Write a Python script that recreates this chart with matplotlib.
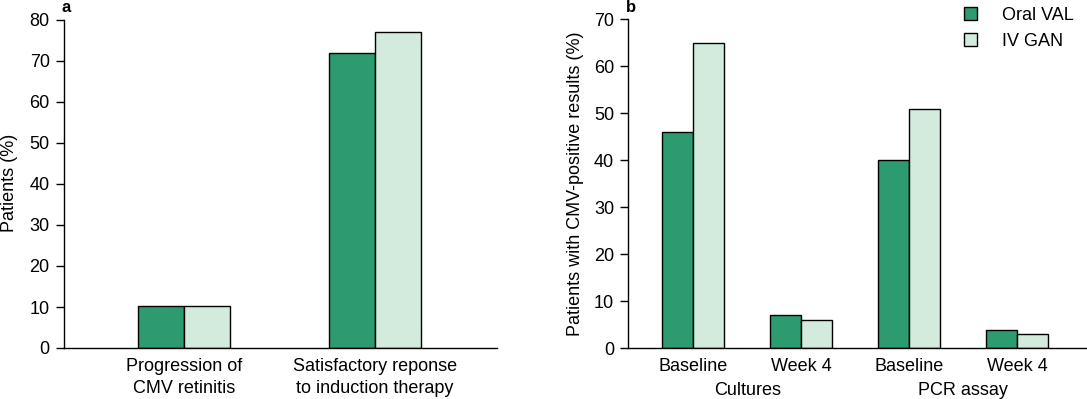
import matplotlib
matplotlib.use("Agg")
import matplotlib.pyplot as plt
import numpy as np
from matplotlib.patches import Patch
import matplotlib.transforms as mtransforms

plt.rcParams['font.family'] = ['Liberation Sans', 'DejaVu Sans']

# Panel a data
a_categories = ["Progression of\nCMV retinitis", "Satisfactory reponse\nto induction therapy"]
a_oral_val = [10.3, 72]
a_iv_gan = [10.3, 77]

# Panel b data
b_categories = ["Baseline", "Week 4", "Baseline", "Week 4"]
b_groups = ["Cultures", "PCR assay"]
b_oral_val = [46, 7, 40, 4]
b_iv_gan = [65, 6, 51, 3]

series_names = ["Oral VAL", "IV GAN"]
c_dark = "#2e9a6f"
c_light = "#d3ebdd"

W, H = 1087, 399
fig = plt.figure(figsize=(W / 100, H / 100), dpi=100)

def frac(x0, y_top, x1, y_bot):
    return [x0 / W, 1 - y_bot / H, (x1 - x0) / W, (y_bot - y_top) / H]

fs = 13

def style(ax):
    for s in ["top", "right"]:
        ax.spines[s].set_visible(False)
    ax.spines["left"].set_linewidth(1.0)
    ax.spines["bottom"].set_linewidth(1.0)
    ax.tick_params(axis="y", direction="out", length=5.8, width=1, labelsize=fs, pad=4.5)
    ax.tick_params(axis="x", length=0, labelsize=fs, pad=7)

# Panel a
axa = fig.add_axes(frac(64, 20, 497, 348))
xa = np.arange(len(a_categories))
wa = 0.243
axa.bar(xa - wa / 2, a_oral_val, wa, color=c_dark, edgecolor="black", linewidth=1.0)
axa.bar(xa + wa / 2, a_iv_gan, wa, color=c_light, edgecolor="black", linewidth=1.0)
axa.set_xlim(-0.628, 1.639)
axa.set_ylim(0, 80)
axa.set_yticks(range(0, 81, 10))
axa.set_xticks(xa)
axa.set_xticklabels(a_categories, linespacing=1.37)
style(axa)
fig.text(14.5 / W, 1 - 183 / H, "Patients (%)", fontsize=fs, rotation=90,
         rotation_mode="anchor", ha="center", va="baseline")
fig.text(61 / W, 1 - 8 / H, "a", fontsize=12, fontweight="bold", va="center", ha="left")

# Panel b
axb = fig.add_axes(frac(628.3, 19.3, 1087, 348.3))
xb = np.arange(len(b_categories))
wb = 0.287
axb.bar(xb - wb / 2, b_oral_val, wb, color=c_dark, edgecolor="black", linewidth=1.0, label=series_names[0])
axb.bar(xb + wb / 2, b_iv_gan, wb, color=c_light, edgecolor="black", linewidth=1.0, label=series_names[1])
axb.set_xlim(-0.602, 3.648)
axb.set_ylim(0, 70)
axb.set_yticks(range(0, 71, 10))
axb.set_xticks(xb)
axb.set_xticklabels(b_categories)
style(axb)
fig.text(579.5 / W, 1 - 184 / H, "Patients with CMV-positive results (%)", fontsize=fs,
         rotation=90, rotation_mode="anchor", ha="center", va="baseline")
trans = mtransforms.blended_transform_factory(axb.transData, fig.transFigure)
for gi, g in enumerate(b_groups):
    axb.text(gi * 2 + 0.5, 1 - 395 / H, g, transform=trans, ha="center", va="baseline", fontsize=fs)
fig.text(626 / W, 1 - 8 / H, "b", fontsize=12, fontweight="bold", va="center", ha="left")

leg = fig.legend(handles=[Patch(facecolor=c_dark, edgecolor="black", linewidth=1.0),
                          Patch(facecolor=c_light, edgecolor="black", linewidth=1.0)],
                 labels=series_names, loc="upper left",
                 bbox_to_anchor=(964 / W, 1 - 7 / H), frameon=False, fontsize=fs,
                 handlelength=0.72, handleheight=0.72, handletextpad=1.4,
                 labelspacing=0.48, borderpad=0, borderaxespad=0)

fig.savefig("out.png", dpi=100)
